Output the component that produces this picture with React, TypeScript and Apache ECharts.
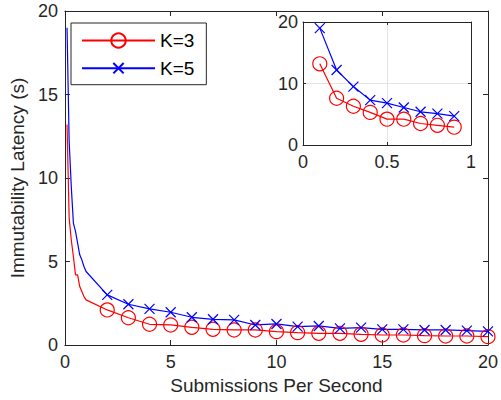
import React, { useEffect, useRef } from "react";
import * as echarts from "echarts";

// Main plot data
const mainX = [0.1, 0.2, 0.3, 0.4, 0.5, 0.6, 0.7, 0.8, 0.9, 1, 2, 3, 4, 5, 6, 7, 8, 9, 10, 11, 12, 13, 14, 15, 16, 17, 18, 19, 20];
const k3Main = [13.2, 7.6, 6.3, 5.3, 4.2, 4.2, 3.5, 3.2, 2.9, 2.7, 2.1, 1.63, 1.24, 1.2, 1.06, 0.94, 0.9, 0.9, 0.8, 0.74, 0.7, 0.7, 0.64, 0.6, 0.6, 0.56, 0.54, 0.54, 0.5];
const k5Main = [19.0, 12.2, 9.5, 7.3, 6.8, 6.1, 5.4, 5.1, 4.7, 4.4, 3.0, 2.44, 2.16, 1.96, 1.66, 1.54, 1.5, 1.2, 1.26, 1.1, 1.14, 1.0, 1.04, 0.94, 0.94, 0.9, 0.9, 0.86, 0.82];
const markerFromX = 2;

// Inset data
const insetX = [0.1, 0.2, 0.3, 0.4, 0.5, 0.6, 0.7, 0.8, 0.9];
const k3Inset = [13.2, 7.6, 6.3, 5.3, 4.2, 4.2, 3.5, 3.2, 2.9];
const k5Inset = [19.0, 12.2, 9.5, 7.3, 6.8, 6.1, 5.4, 5.1, 4.7];

const seriesNames = ["K=3", "K=5"];

const FONT = "'Liberation Sans', Arial, Helvetica, sans-serif";
const AX = "#262626";
const RED = "#ff0000";
const BLUE = "#0000ff";
const CROSS = "path://M0,0M2,2L12,12M12,2L2,12M14,14";

function axisBase(extra: any) {
  return {
    type: "value",
    axisLine: { show: true, onZero: false, lineStyle: { color: AX, width: 1 } },
    axisTick: { show: true, inside: true, length: 5, lineStyle: { color: AX } },
    splitLine: { show: false },
    axisLabel: { show: true, color: AX, fontSize: 18, fontFamily: FONT },
    ...extra,
  };
}

export default function App() {
  const ref = useRef<HTMLDivElement>(null);
  useEffect(() => {
    if (!ref.current) return;
    const chart = echarts.init(ref.current, undefined, { renderer: "svg" });

    const mkMain = (vals: number[]) =>
      mainX.map((x, i) => (x >= markerFromX ? [x, vals[i]] : { value: [x, vals[i]], symbol: "none" }));

    const style = (color: string, symbol: string, size: number) => ({
      type: "line",
      symbol,
      symbolSize: size,
      showSymbol: true,
      showAllSymbol: true,
      color,
      lineStyle: { color, width: 1.2 },
      itemStyle: { color: "rgba(0,0,0,0)", borderColor: color, borderWidth: 1.2 },
      emphasis: { disabled: true },
      silent: true,
      z: 3,
    });

    const option: any = {
      animation: false,
      backgroundColor: "#fff",
      textStyle: { fontFamily: FONT },
      grid: [
        { left: 58, top: 11, width: 432, height: 334 },
        { left: 303, top: 22, width: 168, height: 123, show: true, backgroundColor: "#fff", borderWidth: 0, z: 5 },
      ],
      legend: {
        show: true,
        orient: "vertical",
        left: 71,
        top: 23,
        data: seriesNames,
        itemWidth: 73,
        itemHeight: 18,
        itemGap: 8.7,
        padding: [8, 12, 7, 10],
        borderColor: AX,
        borderWidth: 1,
        backgroundColor: "#fff",
        textStyle: { fontSize: 19, color: "#000", fontFamily: FONT },
        selectedMode: false,
      },
      xAxis: [
        axisBase({
          gridIndex: 0, position: "bottom", min: 0, max: 20, interval: 5,
          axisLabel: { show: true, color: AX, fontSize: 18, fontFamily: FONT, margin: 8 },
          name: "Submissions Per Second", nameLocation: "middle", nameGap: 29,
          nameTextStyle: { fontSize: 19, color: AX, fontFamily: FONT },
        }),
        axisBase({ gridIndex: 0, position: "top", min: 0, max: 20, interval: 5, axisLabel: { show: false } }),
        axisBase({
          gridIndex: 1, position: "bottom", min: 0, max: 1, interval: 0.5,
          axisTick: { show: true, inside: true, length: 3, lineStyle: { color: AX } },
          splitLine: { show: true, lineStyle: { color: "#e3e3e3", width: 1 } },
          axisLabel: { show: true, color: AX, fontSize: 18, fontFamily: FONT, margin: 8 },
          z: 6,
        }),
        axisBase({
          gridIndex: 1, position: "top", min: 0, max: 1, interval: 0.5,
          axisTick: { show: true, inside: true, length: 3, lineStyle: { color: AX } },
          axisLabel: { show: false }, z: 6,
        }),
      ],
      yAxis: [
        axisBase({
          gridIndex: 0, position: "left", min: 0, max: 20, interval: 5,
          axisLabel: { show: true, color: AX, fontSize: 18, fontFamily: FONT, margin: 7 },
          name: "Immutability Latency (s)", nameLocation: "middle", nameGap: 30,
          nameTextStyle: { fontSize: 19, color: AX, fontFamily: FONT },
        }),
        axisBase({ gridIndex: 0, position: "right", min: 0, max: 20, interval: 5, axisLabel: { show: false } }),
        axisBase({
          gridIndex: 1, position: "left", min: 0, max: 20, interval: 10,
          axisTick: { show: true, inside: true, length: 3, lineStyle: { color: AX } },
          splitLine: { show: true, lineStyle: { color: "#e3e3e3", width: 1 } },
          axisLabel: { show: true, color: AX, fontSize: 18, fontFamily: FONT, margin: 5 },
          z: 6,
        }),
        axisBase({
          gridIndex: 1, position: "right", min: 0, max: 20, interval: 10,
          axisTick: { show: true, inside: true, length: 3, lineStyle: { color: AX } },
          axisLabel: { show: false }, z: 6,
        }),
      ],
      series: [
        { ...style(RED, "circle", 14), name: seriesNames[0], xAxisIndex: 0, yAxisIndex: 0, data: mkMain(k3Main) },
        { ...style(BLUE, CROSS, 14), name: seriesNames[1], xAxisIndex: 0, yAxisIndex: 0, data: mkMain(k5Main) },
        { ...style(RED, "circle", 14), name: seriesNames[0], xAxisIndex: 2, yAxisIndex: 2, z: 8,
          data: insetX.map((x, i) => [x, k3Inset[i]]) },
        { ...style(BLUE, CROSS, 14), name: seriesNames[1], xAxisIndex: 2, yAxisIndex: 2, z: 8,
          data: insetX.map((x, i) => [x, k5Inset[i]]) },
      ],
    };
    chart.setOption(option);
    return () => chart.dispose();
  }, []);
  return (
    <div
      ref={ref}
      style={{ position: "fixed", left: 0, top: 0, width: 501, height: 400, background: "#fff" }}
    />
  );
}
